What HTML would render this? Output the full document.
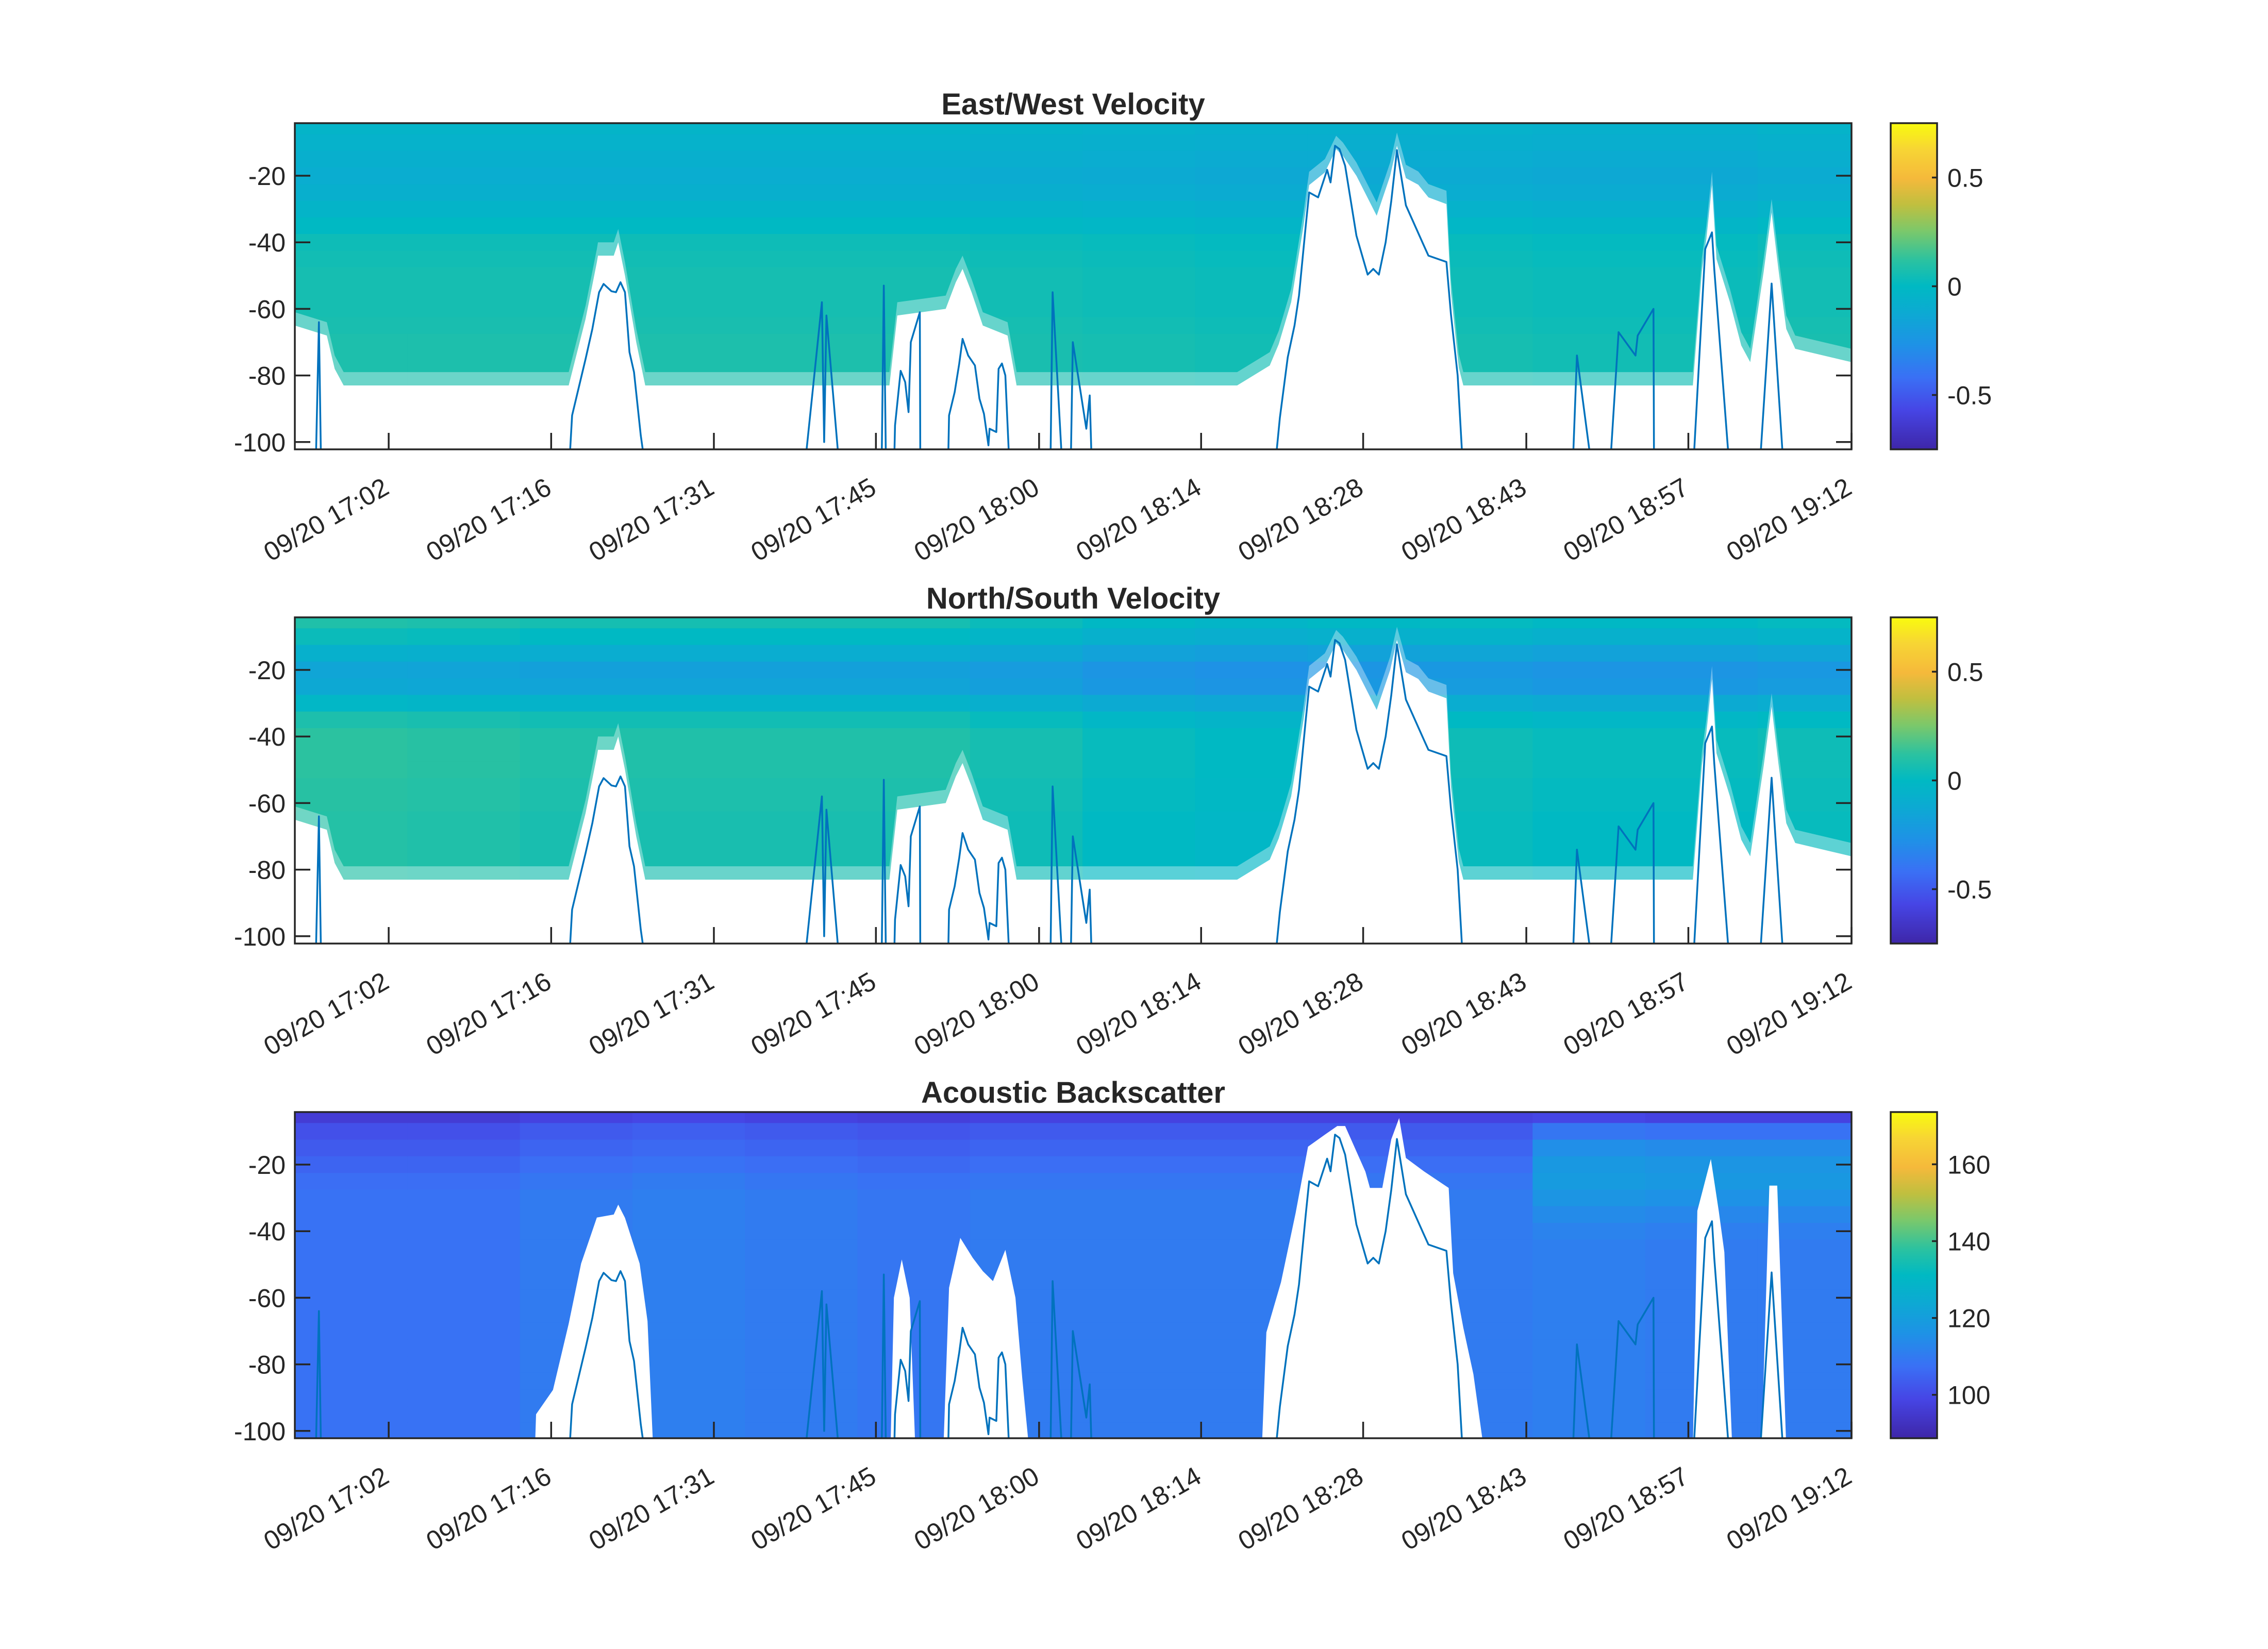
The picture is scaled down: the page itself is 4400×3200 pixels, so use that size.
<!DOCTYPE html>
<html>
<head>
<meta charset="utf-8">
<style>
html,body{margin:0;padding:0;background:#fff;}
svg{display:block;}
text{font-family:"Liberation Sans",Arial,sans-serif;fill:#262626;}
</style>
</head>
<body>
<svg id="fig" xmlns="http://www.w3.org/2000/svg" width="4400" height="3200" viewBox="0 0 4400 3200">
<rect x="0" y="0" width="4400" height="3200" fill="#ffffff"/>
</svg>
<script>
// ---------- DATA ----------
const tickMinutes = [2.0, 16.44, 30.9, 45.3, 59.8, 74.2, 88.6, 103.1, 117.5, 132.0];
const tickLabels = ["09/20 17:02","09/20 17:16","09/20 17:31","09/20 17:45","09/20 18:00","09/20 18:14","09/20 18:28","09/20 18:43","09/20 18:57","09/20 19:12"];
const depthTicks = [-100, -80, -60, -40, -20];
const velCbTicks = [-0.5, 0, 0.5];
const bsCbTicks = [100, 120, 140, 160];

const cellTimes = [-1.34, 8.66, 18.66, 28.66, 38.66, 48.66, 58.66, 68.66, 78.66, 88.66, 98.66, 108.66, 118.66, 128.66];
const cellDepths = [-5, -10, -15, -20, -25, -30, -35, -40, -45, -50, -55, -60, -65, -70, -75, -80, -85, -90, -95, -100];
const ewProfile = [-0.04, -0.06, -0.08, -0.1, -0.08, -0.04, 0.0, 0.04, 0.05, 0.06, 0.06, 0.06, 0.07, 0.08, 0.08, 0.08, 0.08, 0.08, 0.08, 0.08];
const ewOffset = [0.0, 0.0, 0.0, 0.0, 0.0, 0.0, -0.01, -0.02, -0.03, -0.03, -0.02, -0.03, -0.03, -0.01];
const nsProfile = [0.06, 0.0, -0.1, -0.18, -0.16, -0.05, 0.05, 0.09, 0.09, 0.09, 0.08, 0.08, 0.07, 0.07, 0.07, 0.07, 0.07, 0.07, 0.07, 0.07];
const nsOffset = [0.03, 0.02, 0.0, 0.0, 0.0, 0.0, -0.03, -0.07, -0.09, -0.07, -0.05, -0.07, -0.07, -0.05];
const bsProfileEarly = [98, 103, 105, 107, 109, 110, 110, 110, 110, 110, 110, 110, 110, 110, 110, 110, 110, 110, 110, 110];
const bsProfileLate = [98, 108, 114, 117, 118, 116, 113, 111, 110, 110, 110, 110, 110, 110, 110, 110, 110, 110, 110, 110];
const bsOffset = [-2, -2, 0, 1, 0, -1, 0, 0, 0, 0, 0, 1, 0, 0];
const bsLateStart = 100;

const lineT = [-4.5,-4.2,-4.0, 18.0,18.3,19.5,20.1,20.7,21.1,21.8,22.2,22.6,23.0,23.4,23.8,24.4,24.9,
 38.9,40.5,40.7,40.9,42.1, 45.8,46.0,46.2, 46.9,47.0,47.5,47.9,48.2,48.4,49.2,49.25,
 51.7,51.8,52.3,52.7,53.0,53.5,54.1,54.5,54.9,55.3,55.4,56.0,56.2,56.5,56.8,57.2,
 60.8,61.0,61.9, 62.6,62.8,64.0,64.3,64.5,
 80.7,81.2,81.9,82.5,82.9,83.5,83.8,84.6,85.4,85.7,86.1,86.5,87.0,88.0,89.0,89.5,90.0,90.6,91.1,91.6,92.4,94.0,94.4,96.0,96.4,97.0,97.5,
 107.2,107.6,109.0, 110.5,111.3,112.8,113.0,114.4,114.45, 117.9,119.0,119.6,119.8,121.2, 123.8,124.9,126.0];
const lineD = [-110,-64,-110, -110,-92,-75,-66,-55,-52.5,-54.7,-55,-52,-55,-73,-79,-98,-110,
 -110,-58,-100,-62,-110, -110,-53,-110, -110,-95,-78.6,-82,-91,-70,-61,-110,
 -110,-92,-85,-76.5,-69,-74,-77,-87,-91.5,-101,-96,-97,-78,-76.4,-80,-110,
 -110,-55,-110, -110,-70,-96,-86,-110,
 -110,-92.7,-74.5,-65,-56,-35,-25,-26.5,-18.2,-22,-11,-12,-17,-38,-49.7,-48,-49.7,-40,-27.6,-12.3,-28.9,-41,-44,-45.9,-61.5,-80,-110,
 -110,-74,-110, -110,-67,-74,-68,-60,-110, -110,-42,-37,-48,-110, -110,-52.4,-110];

const velMaskT = [-6.34,-3.5,-2.8,-2.0,18.0,18.6,19.5,20.5,20.6,22.0,22.4,23.0,24.0,24.8,46.5,47.2,51.5,52.4,53.0,53.8,54.8,57.0,57.8,77.4,80.3,81.1,82.2,83.3,83.8,85.2,86.2,86.8,88.0,89.8,91.0,91.6,92.4,93.5,94.4,96.0,96.4,97.1,97.5,117.9,118.7,119.1,119.6,120.0,121.2,122.2,123.0,124.2,124.9,125.5,126.2,127.0,132.0];
const velMaskD = [-65,-68,-78,-83,-83,-75,-63,-46,-44,-44,-40,-50,-70,-83,-83,-62,-60,-52,-48,-55,-65,-68,-83,-83,-77,-70.6,-58,-35,-22.8,-19,-12,-14,-20,-32,-20,-11,-20.7,-22.7,-26.5,-28.5,-55,-77.7,-83,-83,-48.7,-39,-22.8,-45,-58,-71,-76,-48.7,-31,-48,-66,-72,-76];
const bsMaskT = [-6.34,15.0,15.1,16.6,18.0,19.1,20.5,22.0,22.4,23.0,24.3,25.0,25.5,46.6,46.9,47.6,48.3,48.8,51.3,51.8,52.8,53.9,54.8,55.7,56.8,57.7,58.3,58.9,79.6,80.0,81.3,82.6,83.7,85.2,86.3,87.0,88.8,89.2,90.3,91.1,91.8,92.4,94.0,96.2,96.6,97.5,98.4,99.3,117.9,118.3,119.5,120.2,120.7,121.4,124.0,124.7,125.4,126.2,132.0];
const bsMaskD = [-105,-105,-95,-87.7,-67.8,-49.7,-35.9,-35,-32,-36,-49.7,-67,-105,-105,-60,-48.5,-60,-105,-105,-57,-42,-48,-52,-55,-45.6,-60,-84,-105,-105,-70.4,-55.3,-34.5,-14.6,-11,-8.4,-8.4,-22.1,-27,-27,-12.4,-6,-18,-22,-27,-52.6,-69,-83,-105,-105,-33.9,-18.3,-33.9,-46.3,-105,-105,-26.3,-26.3,-105,-105];

// ---------- LAYOUT ----------
const AX_L = 572, AX_R = 3592, AX_H = 633;
const T_MIN = -6.34, T_MAX = 132.0;
const D_TOP = -4.2, D_BOT = -102.2;
const CB_L = 3668, CB_R = 3758;
const panels = [
  {key:'ew', title:'East/West Velocity', top:239, titleY:222},
  {key:'ns', title:'North/South Velocity', top:1198, titleY:1181},
  {key:'bs', title:'Acoustic Backscatter', top:2158, titleY:2140}
];

const NS = 'http://www.w3.org/2000/svg';
const svg = document.getElementById('fig');
function mk(tag, attrs, parent){
  const e = document.createElementNS(NS, tag);
  for (const k in attrs) e.setAttribute(k, attrs[k]);
  (parent||svg).appendChild(e);
  return e;
}
function xS(t){ return AX_L + (t - T_MIN)/(T_MAX - T_MIN)*(AX_R-AX_L); }
function yS(d, top){ return top + (D_TOP - d)/(D_TOP - D_BOT)*AX_H; }

const parStops = [
 [0.00,[62,38,168]],[0.12,[70,69,229]],[0.22,[58,112,245]],[0.32,[30,146,230]],
 [0.42,[12,170,210]],[0.50,[0,185,195]],[0.58,[43,194,160]],[0.67,[124,200,106]],
 [0.75,[192,191,63]],[0.83,[245,185,59]],[0.92,[247,213,52]],[1.00,[249,251,14]]];
function parula(f){
  f = Math.max(0, Math.min(1, f));
  for (let i=1;i<parStops.length;i++){
    if (f <= parStops[i][0]){
      const a = parStops[i-1], b = parStops[i];
      const u = (f-a[0])/(b[0]-a[0]);
      const c = a[1].map((v,j)=>Math.round(v + u*(b[1][j]-v)));
      return 'rgb('+c.join(',')+')';
    }
  }
  return 'rgb(249,251,14)';
}

const defs = mk('defs', {});
const grad = mk('linearGradient', {id:'parulaGrad', x1:'0', y1:'1', x2:'0', y2:'0'}, defs);
parStops.forEach(s=>{
  mk('stop', {offset:s[0], 'stop-color':'rgb('+s[1].join(',')+')'}, grad);
});

panels.forEach((p, pi)=>{
  const top = p.top, bot = top + AX_H;
  const clip = mk('clipPath', {id:'clip'+pi}, defs);
  mk('rect', {x:AX_L, y:top, width:AX_R-AX_L, height:AX_H}, clip);

  const g = mk('g', {'clip-path':'url(#clip'+pi+')'});
  
  

  const vmin = p.key==='bs' ? 88.7 : -0.75;
  const vmax = p.key==='bs' ? 173.6 : 0.75;
  const dt = cellTimes[1]-cellTimes[0];
  const dd = cellDepths[0]-cellDepths[1];
  cellTimes.forEach((t, ci)=>{
    cellDepths.forEach((d, ri)=>{
      let v;
      if (p.key==='ew') v = ewProfile[ri] + ewOffset[ci];
      else if (p.key==='ns') v = nsProfile[ri] + nsOffset[ci];
      else v = (t >= bsLateStart ? bsProfileLate[ri] : bsProfileEarly[ri]) + bsOffset[ci];
      const x0 = xS(t - dt/2), x1 = xS(t + dt/2);
      const yTop = ri===0 ? top : yS(d + dd/2, top);
      const y1 = yS(d - dd/2, top);
      const r = mk('rect', {x:x0.toFixed(1), y:yTop.toFixed(1), width:(x1-x0+1).toFixed(1), height:(y1-yTop+1).toFixed(1), fill:parula((v-vmin)/(vmax-vmin))}, g);
      
      
    });
  });

  const mT = p.key==='bs' ? bsMaskT : velMaskT;
  const mD = p.key==='bs' ? bsMaskD : velMaskD;
  let pts = mT.map((t,i)=>xS(t).toFixed(1)+','+yS(mD[i], top).toFixed(1));
  pts.push(xS(T_MAX+1).toFixed(1)+','+(bot+20), xS(T_MIN-1).toFixed(1)+','+(bot+20));
  if (p.key !== 'bs') {
    // faded sparse band just above the data bottom
    const fpts = mT.map((t,i)=>xS(t).toFixed(1)+','+yS(mD[i]+4, top).toFixed(1));
    fpts.push(xS(T_MAX+1).toFixed(1)+','+(bot+20), xS(T_MIN-1).toFixed(1)+','+(bot+20));
    const fade = mk('polygon', {points:fpts.join(' '), fill:'#ffffff', 'fill-opacity':0.35}, g);
    
    
  }
  const mask = mk('polygon', {points:pts.join(' '), fill:'#ffffff'}, g);
  
  

  const lp = lineT.map((t,i)=>xS(t).toFixed(1)+','+yS(lineD[i], top).toFixed(1)).join(' ');
  const line = mk('polyline', {points:lp, fill:'none', stroke:'#0072bd', 'stroke-width':3.5, 'stroke-linejoin':'round'}, g);
  
  

  const box = mk('rect', {x:AX_L, y:top, width:AX_R-AX_L, height:AX_H, fill:'none', stroke:'#262626', 'stroke-width':3.5});
  
  

  const tt = mk('text', {x:(AX_L+AX_R)/2, y:p.titleY, 'text-anchor':'middle', 'font-size':58, 'font-weight':'bold', fill:'#000'});
  tt.textContent = p.title;
  
  

  depthTicks.forEach(d=>{
    const y = yS(d, top);
    const tl = mk('line', {x1:AX_L, y1:y, x2:AX_L+30, y2:y, stroke:'#262626', 'stroke-width':3.5});
    
    
    const tr = mk('line', {x1:AX_R-30, y1:y, x2:AX_R, y2:y, stroke:'#262626', 'stroke-width':3.5});
    
    
    const lb = mk('text', {x:AX_L-18, y:y+18, 'text-anchor':'end', 'font-size':50});
    lb.textContent = String(d);
    
    
  });

  tickMinutes.forEach((t, i)=>{
    const x = xS(t);
    const tk = mk('line', {x1:x, y1:bot, x2:x, y2:bot-32, stroke:'#262626', 'stroke-width':3.5});
    
    
    const ax = x + 4, ay = bot + 84;
    const lb = mk('text', {x:ax, y:ay, 'text-anchor':'end', 'font-size':51, transform:'rotate(-30 '+ax+' '+ay+')'});
    lb.textContent = tickLabels[i];
    
    
  });

  const cb = mk('rect', {x:CB_L, y:top, width:CB_R-CB_L, height:AX_H, fill:'url(#parulaGrad)', stroke:'#262626', 'stroke-width':3.5});
  
  
  const cticks = p.key==='bs' ? bsCbTicks : velCbTicks;
  cticks.forEach(v=>{
    const y = top + (vmax - v)/(vmax - vmin)*AX_H;
    const tk = mk('line', {x1:CB_R-10, y1:y, x2:CB_R, y2:y, stroke:'#262626', 'stroke-width':3.5});
    
    
    const lb = mk('text', {x:CB_R+20, y:y+18, 'font-size':50});
    lb.textContent = String(v);
    
    
  });
});
</script>
</body>
</html>
